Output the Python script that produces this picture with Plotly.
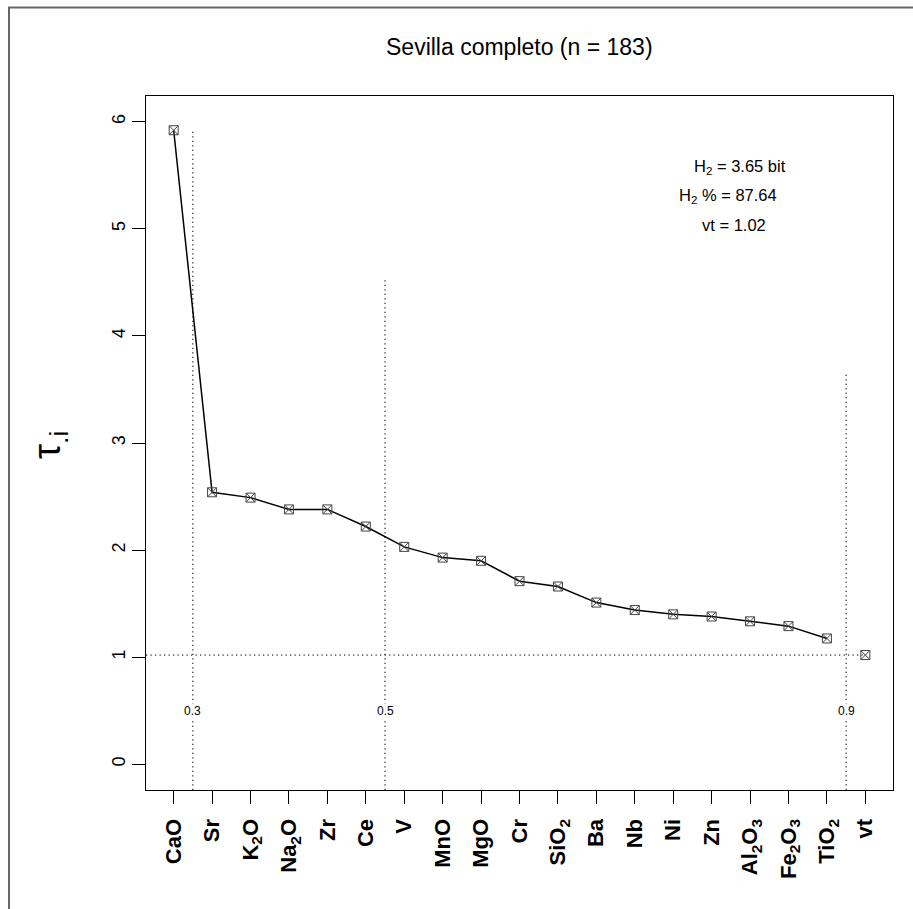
import plotly.graph_objects as go

# ---- data ----
categories = ["CaO", "Sr", "K<sub>2</sub>O", "Na<sub>2</sub>O", "Zr", "Ce", "V", "MnO", "MgO", "Cr",
              "SiO<sub>2</sub>", "Ba", "Nb", "Ni", "Zn", "Al<sub>2</sub>O<sub>3</sub>",
              "Fe<sub>2</sub>O<sub>3</sub>", "TiO<sub>2</sub>", "vt"]
tau_values = [5.92, 2.54, 2.49, 2.38, 2.38, 2.22, 2.03, 1.93, 1.90, 1.71,
              1.66, 1.51, 1.44, 1.40, 1.38, 1.335, 1.29, 1.175]
vt_value = 1.02
cut_positions = [1.5, 6.5, 18.5]
cut_heights = [5.92, 4.54, 3.66]
cut_labels = ["0.3", "0.5", "0.9"]
y_ticks = [0, 1, 2, 3, 4, 5, 6]
title_text = "Sevilla completo (n = 183)"
stats_lines = ["H<sub>2</sub> = 3.65 bit", "H<sub>2</sub> % = 87.64", "vt = 1.02"]

FONT = "Liberation Sans, Arial, Helvetica, sans-serif"
xpos = list(range(1, len(categories) + 1))
n = len(categories)
xr = [1 - 0.04 * (n - 1), n + 0.04 * (n - 1)]
yr = [0 - 0.04 * 6, 6 + 0.04 * 6]

fig = go.Figure()

DOT = "1.3px,3.2px"
# dotted cut lines
for p, h in zip(cut_positions, cut_heights):
    fig.add_trace(go.Scatter(x=[p, p], y=[yr[0], h], mode="lines",
                             line=dict(color="black", width=1, dash=DOT),
                             hoverinfo="skip", showlegend=False))
# horizontal vt line
fig.add_trace(go.Scatter(x=[xr[0], n], y=[vt_value, vt_value], mode="lines",
                         line=dict(color="black", width=1, dash=DOT),
                         hoverinfo="skip", showlegend=False))

MARK = dict(symbol="square-x-open", size=9, color="#444", line=dict(width=1, color="#444"))
# main line
fig.add_trace(go.Scatter(x=xpos[:len(tau_values)], y=tau_values, mode="lines+markers",
                         line=dict(color="black", width=1.5), marker=MARK,
                         showlegend=False))
# vt point
fig.add_trace(go.Scatter(x=[n], y=[vt_value], mode="markers", marker=MARK,
                         showlegend=False))

annotations = []
for p, lab in zip(cut_positions, cut_labels):
    annotations.append(dict(x=p, y=0.5, xref="x", yref="y", text=lab, showarrow=False,
                            font=dict(family=FONT, size=12, color="black"),
                            bgcolor="white", borderpad=0))

# stats text
L, R, T, B = 146, 893, 96, 790
def px_x(px):
    return (px - L) / (R - L)
def px_y(py):
    return (B - py) / (B - T)

stat_centers = [(740, 167), (728, 196), (734, 225)]
for (cx, cy), txt in zip(stat_centers, stats_lines):
    annotations.append(dict(x=px_x(cx), y=px_y(cy), xref="paper", yref="paper", text=txt,
                            showarrow=False, xanchor="center", yanchor="middle",
                            font=dict(family=FONT, size=16.5, color="black")))

annotations.append(dict(x=0.5, y=px_y(47), xref="paper", yref="paper", text=title_text,
                        showarrow=False, xanchor="center", yanchor="middle",
                        font=dict(family=FONT, size=23, color="black")))
annotations.append(dict(x=px_x(50), y=px_y(445), xref="paper", yref="paper",
                        text="τ<sub>.i</sub>", textangle=-90,
                        showarrow=False, xanchor="center", yanchor="middle",
                        font=dict(family=FONT, size=38, color="black")))

shapes = [
    dict(type="line", xref="paper", yref="paper", x0=px_x(9), x1=px_x(9),
         y0=px_y(912), y1=px_y(7.5), line=dict(color="#666", width=2)),
    dict(type="line", xref="paper", yref="paper", x0=px_x(8), x1=px_x(915),
         y0=px_y(7.5), y1=px_y(7.5), line=dict(color="#666", width=2)),
]

fig.update_layout(
    width=913, height=909,
    margin=dict(l=L, r=913 - R, t=T, b=909 - B),
    paper_bgcolor="white", plot_bgcolor="white",
    font=dict(family=FONT, color="black"),
    annotations=annotations, shapes=shapes,
    xaxis=dict(range=xr, tickmode="array", tickvals=xpos, ticktext=categories,
               tickangle=-90, ticks="outside", ticklen=13, tickwidth=1.3, tickcolor="black",
               ticklabelstandoff=6,
               showline=True, linecolor="black", linewidth=1.3, mirror=True,
               showgrid=False, zeroline=False,
               tickfont=dict(family=FONT, size=22, color="black", weight="bold")),
    yaxis=dict(range=yr, tickmode="array", tickvals=y_ticks,
               tickangle=-90, ticks="outside", ticklen=13, tickwidth=1.3, tickcolor="black",
               showline=True, linecolor="black", linewidth=1.3, mirror=True,
               showgrid=False, zeroline=False,
               tickfont=dict(family=FONT, size=18, color="black")),
)

fig.write_html("out.html")
